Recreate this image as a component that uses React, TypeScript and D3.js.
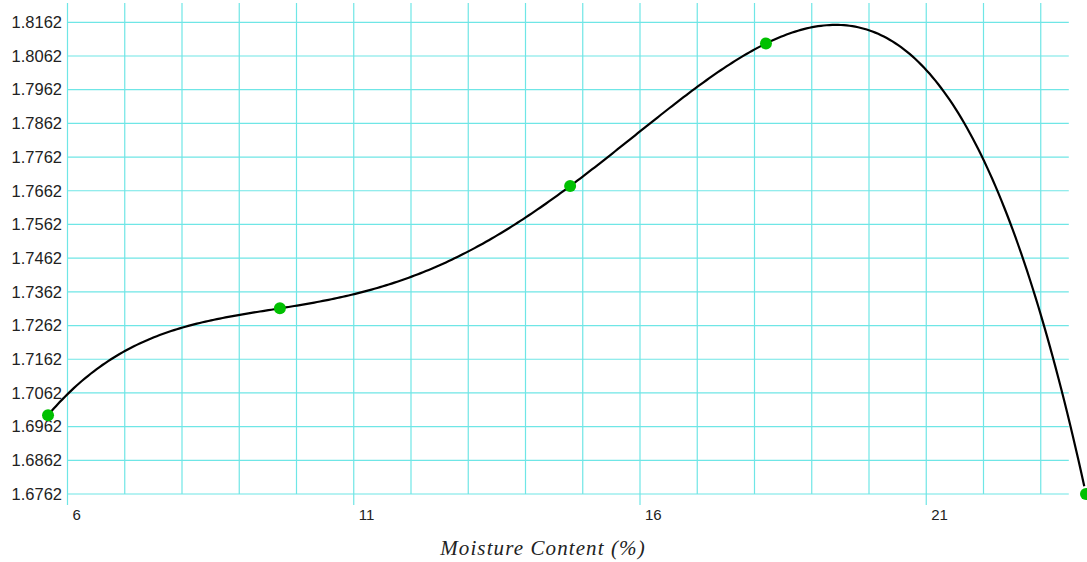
import React from "react";
import * as d3 from "d3";

const moisture = [5.66, 9.71, 14.78, 18.2, 23.79];
const density = [1.6996, 1.7313, 1.7676, 1.8099, 1.6762];
const xTickValues = [6, 11, 16, 21];
const yTickLabels = ["1.6762","1.6862","1.6962","1.7062","1.7162","1.7262","1.7362","1.7462","1.7562","1.7662","1.7762","1.7862","1.7962","1.8062","1.8162"];
const xGridValues = [6,7,8,9,10,11,12,13,14,15,16,17,18,19,20,21,22,23];
const xTitle = "Moisture Content (%)";

// Polynomial (degree n-1) curve through the data points, as in the original chart
function lagrange(xs: number[], ys: number[], t: number) {
  let s = 0;
  for (let i = 0; i < xs.length; i++) {
    let p = ys[i];
    for (let j = 0; j < xs.length; j++) if (j !== i) p *= (t - xs[j]) / (xs[i] - xs[j]);
    s += p;
  }
  return s;
}

export default function App() {
  const W = 1087, H = 562;
  const x = d3.scaleLinear().domain([6, 23]).range([67.5, 1040.75]);
  const y = d3.scaleLinear().domain([1.6762, 1.8162]).range([494, 22.3]);
  const gridRight = x(23.49);
  const gridTop = 3;
  const pts = moisture.map((m, i) => [m, density[i]] as [number, number]);
  const samples = d3.range(moisture[0], moisture[moisture.length - 1] + 1e-9, 0.05);
  const curvePts = samples.map(t => [t, lagrange(moisture, density, t)] as [number, number]);
  const line = d3.line<[number, number]>().x(d => x(d[0])).y(d => y(d[1]));
  const gridColor = "#6fe6e6";
  return (
    <svg width={W} height={H} style={{ position: "absolute", left: 0, top: 0, background: "#fff" }}>
      {xGridValues.map(v => (
        <line key={"vx" + v} x1={x(v)} x2={x(v)} y1={gridTop} y2={xTickValues.includes(v) ? 505 : 494}
          stroke={gridColor} strokeWidth={1.2} />
      ))}
      {yTickLabels.map(t => (
        <line key={"hy" + t} x1={x(6)} x2={gridRight} y1={y(+t)} y2={y(+t)} stroke={gridColor} strokeWidth={1.2} />
      ))}
      {yTickLabels.map(t => (
        <text key={"ly" + t} x={62} y={y(+t)} dy="0.35em" textAnchor="end"
          fontFamily="Liberation Sans, Arial, sans-serif" fontSize={16.5} fill="#222">{t}</text>
      ))}
      {xTickValues.map(v => (
        <text key={"lx" + v} x={x(v) + 5} y={520} textAnchor="start"
          fontFamily="Liberation Sans, Arial, sans-serif" fontSize={15} fill="#222">{v}</text>
      ))}
      <text x={543} y={555} textAnchor="middle" fontFamily="Liberation Serif, Times New Roman, serif"
        fontStyle="italic" fontSize={21} letterSpacing={1.1} fill="#222">{xTitle}</text>
      <path d={line(curvePts) || ""} fill="none" stroke="#000" strokeWidth={2.2} />
      {pts.map((p, i) => (
        <circle key={"pt" + i} cx={x(p[0])} cy={y(p[1])} r={6} fill="#00c000" />
      ))}
    </svg>
  );
}
